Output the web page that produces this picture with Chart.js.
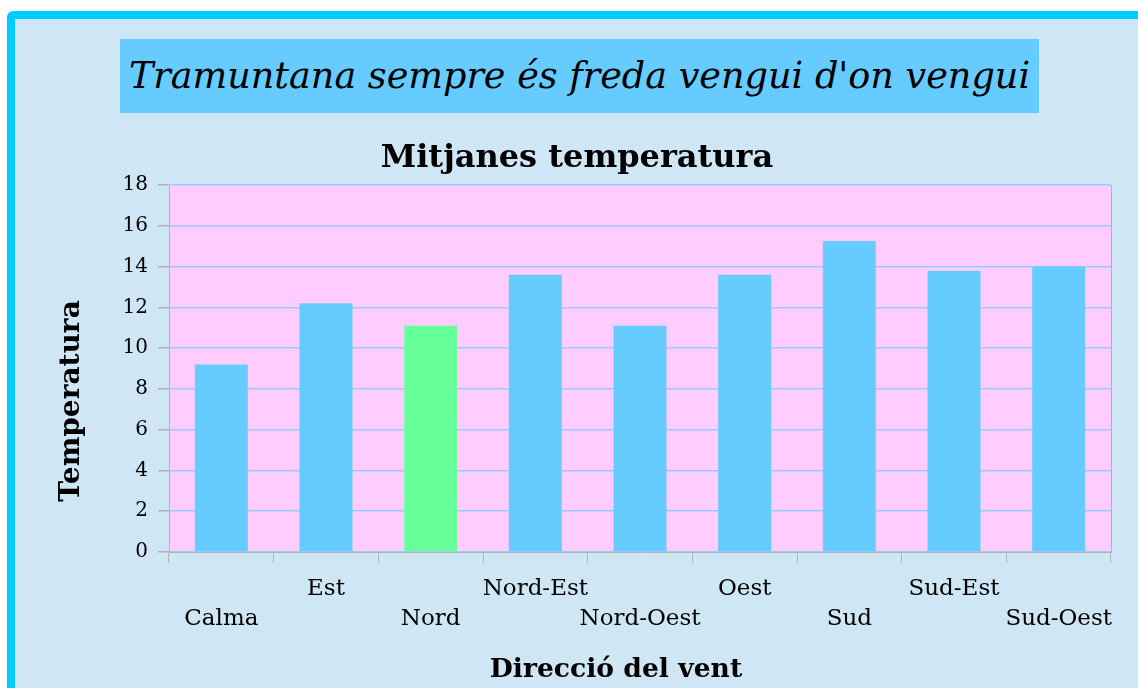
<!DOCTYPE html>
<html><head><meta charset="utf-8">
<script src="https://cdn.jsdelivr.net/npm/chart.js@4/dist/chart.umd.min.js"></script>
<style>
html,body{margin:0;padding:0;background:#fff;width:1138px;height:688px;overflow:hidden;}
#frame{position:absolute;left:7px;top:11px;width:1200px;height:800px;box-sizing:border-box;border:8px solid #00ccff;border-radius:6px;background:#cfe6f4;}
#banner{position:absolute;left:120px;top:39px;width:919px;height:74px;background:#66ccff;font-family:'DejaVu Serif',serif;font-style:italic;font-size:36.6px;line-height:74px;text-align:center;color:#000;white-space:nowrap;}
#c{position:absolute;left:0;top:0;}
</style></head>
<body>
<div id="frame"></div>
<div id="banner">Tramuntana sempre és freda vengui d'on vengui</div>
<canvas id="c" width="1138" height="688"></canvas>
<script>
const categories = ['Calma','Est','Nord','Nord-Est','Nord-Oest','Oest','Sud','Sud-Est','Sud-Oest'];
const temperatures = [9.2, 12.2, 11.1, 13.6, 11.1, 13.6, 15.25, 13.8, 14.0];
const highlighted = 'Nord';
const chartTitle = 'Mitjanes temperatura';
const xTitle = 'Direcció del vent';
const yTitle = 'Temperatura';

const FONT = "'DejaVu Serif', serif";
const barColors = categories.map(c => c === highlighted ? '#66ff99' : '#66ccff');

const plotBg = {
  id: 'plotBg',
  beforeDraw(chart) {
    const {ctx, chartArea: a} = chart;
    ctx.save();
    ctx.fillStyle = '#ffccff';
    ctx.fillRect(a.left, a.top, a.right - a.left, a.bottom - a.top);
    ctx.restore();
  }
};
const axisTitles = {
  id: 'axisTitles',
  afterDraw(chart) {
    const ctx = chart.ctx;
    ctx.save();
    ctx.fillStyle = '#000';
    ctx.textAlign = 'center';
    ctx.textBaseline = 'middle';
    ctx.font = "bold 26.6px " + FONT;
    ctx.fillText(xTitle, 616, 670);
    ctx.translate(72, 401);
    ctx.rotate(-Math.PI / 2);
    ctx.font = "bold 28px " + FONT;
    ctx.fillText(yTitle, 0, 0);
    ctx.restore();
  }
};

new Chart(document.getElementById('c'), {
  type: 'bar',
  data: {
    labels: categories,
    datasets: [{
      data: temperatures,
      backgroundColor: barColors,
      borderWidth: 0,
      barPercentage: 1,
      categoryPercentage: 0.506
    }]
  },
  options: {
    responsive: false,
    animation: false,
    devicePixelRatio: 1,
    layout: {padding: {left: 16, right: 0, top: 0, bottom: 0}},
    plugins: {
      legend: {display: false},
      tooltip: {enabled: false},
      title: {
        display: true,
        text: chartTitle,
        color: '#000',
        font: {family: FONT, size: 32, weight: 'bold', lineHeight: 1.2},
        padding: {top: 139, bottom: 7.6}
      }
    },
    scales: {
      x: {
        grid: {display: true, drawOnChartArea: false, drawTicks: true, tickLength: 11, tickColor: '#b3b3b3', offset: true},
        border: {display: true, color: '#b3b3b3', width: 1},
        ticks: {
          color: '#000',
          font: {family: FONT, size: 23, lineHeight: 1.3},
          padding: 11,
          maxRotation: 0,
          autoSkip: false,
          callback: (v, i) => i % 2 === 0 ? ['', categories[i]] : categories[i]
        },
        afterFit(s) { s.height = 136; }
      },
      y: {
        min: 0, max: 18,
        grid: {color: '#99ccff', tickColor: '#b3b3b3', tickLength: 11, drawTicks: true, lineWidth: 1.5},
        border: {display: true, color: '#b3b3b3', width: 1},
        ticks: {stepSize: 2, color: '#000', font: {family: FONT, size: 20}, padding: 10},
        afterFit(s) { s.width = 153; }
      },
      y2: {
        position: 'right',
        grid: {drawOnChartArea: false, drawTicks: false},
        border: {display: true, color: '#b3b3b3', width: 1},
        ticks: {display: false},
        afterFit(s) { s.width = 27; }
      }
    }
  },
  plugins: [plotBg, axisTitles]
});
</script>
</body></html>
